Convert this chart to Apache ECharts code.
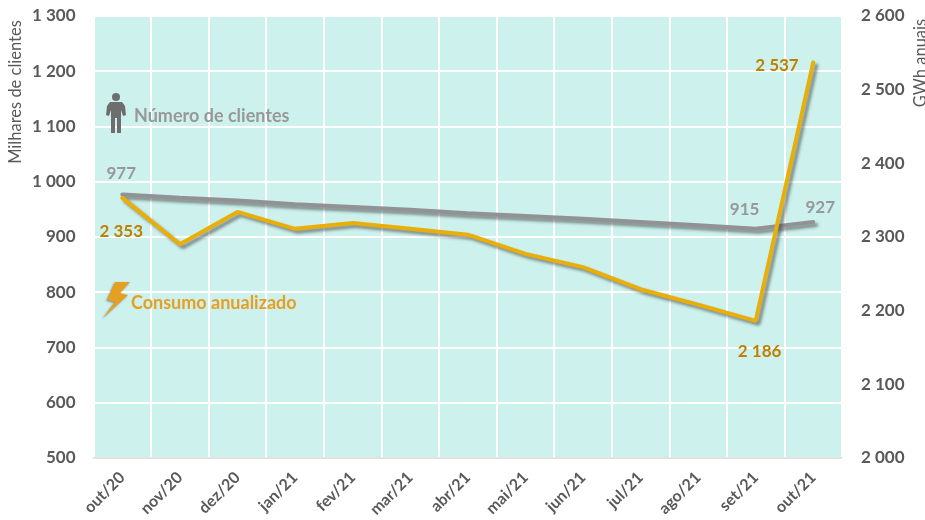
<!DOCTYPE html>
<html><head><meta charset="utf-8">
<style>html,body{margin:0;padding:0;background:#fff}#c{width:925px;height:520px}</style>
<script src="https://cdn.jsdelivr.net/npm/echarts@6/dist/echarts.min.js"></script>
</head><body><div id="c"></div>
<script>
const categories=['out/20','nov/20','dez/20','jan/21','fev/21','mar/21','abr/21','mai/21','jun/21','jul/21','ago/21','set/21','out/21'];
const clientes=[977,971,966,959,954,949,943,938,933,927,921,915,927];
const consumo=[2353,2290,2334,2311,2319,2311,2303,2277,2259,2229,2208,2186,2537];
const leftTicks={min:500,max:1300,interval:100};
const rightTicks={min:2000,max:2600,interval:100};
const FONT='Lato, "Open Sans", sans-serif';
const fmt=v=>String(v).replace(/\B(?=(\d{3})+$)/g,' ');
const lblC={show:true,color:'#98989a',fontSize:17,fontWeight:'bold',fontFamily:FONT,formatter:p=>fmt(p.value)};
const lblE={show:true,color:'#BF7F00',fontSize:17,fontWeight:'bold',fontFamily:FONT,formatter:p=>fmt(p.value)};
const clLabels={0:{position:'top',offset:[-1,-7]},11:{position:'top',offset:[-11,-5]},12:{position:'top',offset:[7,-1]}};
const coLabels={0:{position:'bottom',offset:[-1,20]},11:{position:'bottom',offset:[4,17]},12:{position:'left',offset:[-9,3]}};
const mk=(arr,map,base)=>arr.map((v,i)=>map[i]?{value:v,symbolSize:1,label:Object.assign({},base,map[i])}:{value:v,symbolSize:0,label:{show:false}});
const shadow={shadowColor:'rgba(60,60,60,0.55)',shadowBlur:3,shadowOffsetX:3,shadowOffsetY:3};
const axisLab={color:'#595959',fontSize:17,fontWeight:'bold',fontFamily:FONT,formatter:fmt};
const chart=echarts.init(document.getElementById('c'),null,{renderer:'canvas'});
chart.setOption({
 animation:false,
 backgroundColor:'#fff',
 grid:{left:93.5,right:83,top:16,bottom:62,show:true,backgroundColor:'#CDF1EC',borderWidth:0},
 xAxis:{type:'category',data:categories,boundaryGap:true,
  axisLine:{show:true,lineStyle:{color:'#D9D9D9',width:1.5}},axisTick:{show:false},
  splitLine:{show:true,lineStyle:{color:'#fff',width:2}},
  axisLabel:{color:'#595959',fontSize:16,fontWeight:'bold',fontFamily:FONT,rotate:45,margin:17,interval:0}},
 yAxis:[
  Object.assign({type:'value',position:'left',axisLine:{show:false},axisTick:{show:false},
   splitLine:{show:true,lineStyle:{color:'#fff',width:2}},axisLabel:Object.assign({margin:18},axisLab)},leftTicks),
  Object.assign({type:'value',position:'right',axisLine:{show:false},axisTick:{show:false},
   splitLine:{show:false},axisLabel:Object.assign({margin:19},axisLab)},rightTicks)
 ],
 series:[
  {type:'line',name:'Número de clientes',yAxisIndex:0,data:mk(clientes,clLabels,lblC),symbol:'circle',showAllSymbol:true,
   lineStyle:Object.assign({color:'#929296',width:4,cap:'round'},shadow),itemStyle:{color:'#929296'},z:2},
  {type:'line',name:'Consumo anualizado',yAxisIndex:1,data:mk(consumo,coLabels,lblE),symbol:'circle',showAllSymbol:true,
   lineStyle:Object.assign({color:'#E9AE07',width:4,cap:'round'},shadow),itemStyle:{color:'#E9AE07'},z:3}
 ],
 graphic:[
  {type:'text',z:100,x:134,y:107,style:{text:'Número de clientes',fill:'#98989a',font:'bold 18px '+FONT}},
  {type:'text',z:100,x:131,y:294,style:{text:'Consumo anualizado',fill:'#E5A024',font:'bold 18px '+FONT}},
  {type:'circle',z:100,shape:{cx:116,cy:97,r:4},style:{fill:'#6e6e6e'}},
  {type:'polygon',z:100,shape:{points:[[110,102],[122,102],[125,106],[126,115],[123,116],[121,110],[121,133],[117,133],[117,118],[115,118],[115,133],[111,133],[111,110],[109,116],[106,115],[107,106]]},style:{fill:'#6e6e6e'}},
  {type:'polygon',z:100,shape:{points:[[115,282],[130,282],[120,293],[128,295],[103,318],[115,302],[107,300]]},
   style:{fill:'#E5A024',shadowColor:'rgba(90,90,90,0.6)',shadowBlur:2,shadowOffsetX:-1,shadowOffsetY:1}},
  {type:'text',z:100,x:16,y:92,rotation:Math.PI/2,style:{text:'Milhares de clientes',fill:'#595959',font:'16.5px '+FONT,align:'center',verticalAlign:'middle'}},
  {type:'text',z:100,x:921,y:63,rotation:Math.PI/2,style:{text:'GWh anuais',fill:'#595959',font:'16.5px '+FONT,align:'center',verticalAlign:'middle'}}
 ]
});
</script></body></html>
